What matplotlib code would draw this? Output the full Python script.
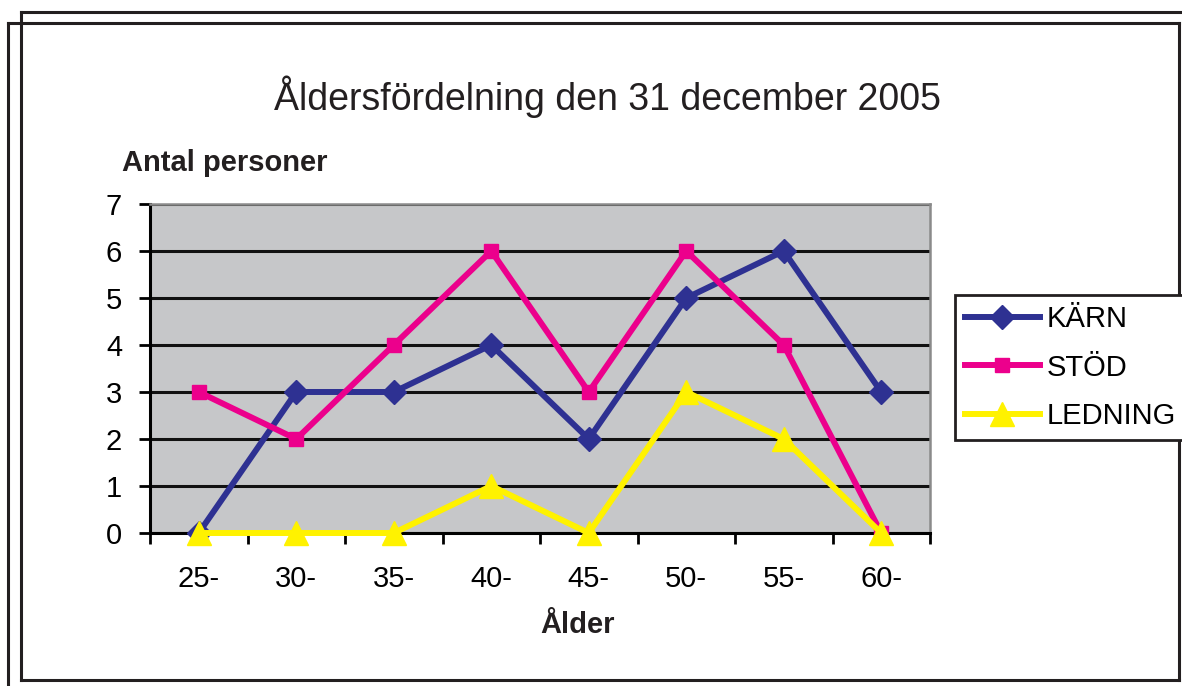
import matplotlib.pyplot as plt
from matplotlib.lines import Line2D

# Data
age_groups = ['25-', '30-', '35-', '40-', '45-', '50-', '55-', '60-']
karn = [0, 3, 3, 4, 2, 5, 6, 3]
stod = [3, 2, 4, 6, 3, 6, 4, 0]
ledning = [0, 0, 0, 1, 0, 3, 2, 0]

plt.rcParams['font.family'] = ['Liberation Sans', 'DejaVu Sans']
W, H = 1182, 686
fig = plt.figure(figsize=(W / 100, H / 100), dpi=100)
fig.patch.set_facecolor('white')


def px(x0, y0, x1, y1):
    # pixel coordinates -> figure fraction
    return [x0 / W, x1 / W], [1 - y0 / H, 1 - y1 / H]


# Frame around the chart (scanned double border)
frame_col = '#231F20'
segments = [
    (21, 23, 1179, 23), (1179, 23, 1179, 680), (21, 680, 1179, 680),
    (21, 12, 21, 680), (21, 12, 1182, 12), (8, 23, 21, 23), (8, 23, 8, 686),
]
for s in segments:
    xs, ys = px(*s)
    fig.add_artist(Line2D(xs, ys, transform=fig.transFigure, color=frame_col, lw=2.2))

ax = fig.add_axes([150 / W, 1 - 533 / H, 780 / W, 329 / H])
ax.set_facecolor('#C6C7C9')

x = list(range(len(age_groups)))
ax.plot(x, karn, color='#2E3192', lw=4.3, marker='D', markersize=12, label='KÄRN',
        zorder=3, clip_on=False)
ax.plot(x, stod, color='#EC008C', lw=4.3, marker='s', markersize=10, label='STÖD',
        zorder=4, clip_on=False)
ax.plot(x, ledning, color='#FFF200', lw=4.3, marker='^', markersize=17, label='LEDNING',
        zorder=5, clip_on=False)

ax.set_xlim(-0.5, len(age_groups) - 0.5)
ax.set_ylim(0, 7)
ax.set_yticks(range(0, 8))
ax.yaxis.grid(True, color='#111111', lw=2.2)
ax.set_axisbelow(True)

ax.set_xticks(x)
ax.set_xticklabels(age_groups)
ax.set_xticks([i - 0.5 for i in range(len(age_groups) + 1)], minor=True)
ax.tick_params(axis='x', which='major', length=0, pad=23, labelsize=21)
ax.tick_params(axis='x', which='minor', length=8, width=2, direction='out', color='black')
ax.tick_params(axis='y', length=8, width=2, pad=12, labelsize=21, color='black')

for side in ['left', 'bottom']:
    ax.spines[side].set_color('black')
    ax.spines[side].set_linewidth(2.2)
for side in ['top', 'right']:
    ax.spines[side].set_color('#8A8A8A')
    ax.spines[side].set_linewidth(1.8)

fig.text(608 / W, 1 - 97 / H, 'Åldersfördelning den 31 december 2005',
         ha='center', va='center', fontsize=27, color='#231F20')
fig.text(122 / W, 1 - 163 / H, 'Antal personer', ha='left', va='center',
         fontsize=21, fontweight='bold', color='#231F20')
fig.text(578 / W, 1 - 625 / H, 'Ålder', ha='center', va='center',
         fontsize=21, fontweight='bold', color='#231F20')

leg = fig.legend(loc='upper left', bbox_to_anchor=(955 / W, 1 - 295 / H),
                 fontsize=21, handlelength=2.55, handletextpad=0.25,
                 labelspacing=0.7, borderpad=0.35, borderaxespad=0,
                 fancybox=False, framealpha=1, edgecolor='#231F20')
leg.get_frame().set_linewidth(2)

fig.savefig('out.png', dpi=100)
